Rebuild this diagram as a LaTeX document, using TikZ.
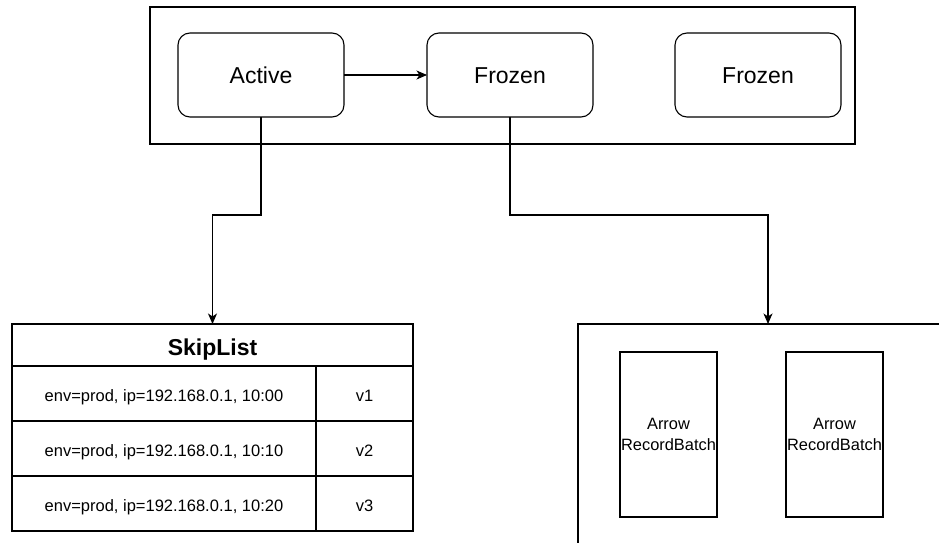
\documentclass[tikz,border=0pt]{standalone}
\usepackage{fontspec}
\setmainfont{Liberation Sans}
\usetikzlibrary{arrows.meta}
\begin{document}
\begin{tikzpicture}[x=1pt,y=-1pt,
  line width=1.1pt,
  every node/.style={inner sep=0pt, outer sep=0pt},
  container/.style={draw, rectangle},
  stagebox/.style={draw, rectangle, rounded corners=12pt, minimum width=166pt, minimum height=84pt, text height=16.6pt, text depth=0pt, font=\fontsize{23}{27}\selectfont},
  cellbox/.style={draw, rectangle, minimum height=55pt, text height=16.4pt, text depth=0pt, font=\fontsize{16.5}{20}\selectfont},
  batchbox/.style={draw, rectangle, minimum width=97pt, minimum height=165pt, align=center, font=\fontsize{16.4}{20.5}\selectfont},
  conn/.style={-{Stealth[length=10.5pt,width=9pt,inset=3pt]}}
]
\useasboundingbox (0,0) rectangle (939,543);
\clip (0,0) rectangle (939,543);
\fill[white] (0,0) rectangle (939,543);

% top container
\node[container, minimum width=705pt, minimum height=137pt] (outer) at (502.5,75.5) {};
\node[stagebox] (active) at (261,75) {Active};
\node[stagebox] (frozenA) at (510,75) {Frozen};
\node[stagebox] (frozenB) at (758,75) {Frozen};

% skiplist table
\node[draw, rectangle, minimum width=401pt, minimum height=42pt, text height=20pt, text depth=0pt, font=\fontsize{23}{27}\selectfont\bfseries] (skip) at (212.5,345) {SkipList};
\node[cellbox, minimum width=304pt] (k1) at (164,393.5) {env=prod, ip=192.168.0.1, 10:00};
\node[cellbox, minimum width=97pt] (v1) at (364.5,393.5) {v1};
\node[cellbox, minimum width=304pt] (k2) at (164,448.5) {env=prod, ip=192.168.0.1, 10:10};
\node[cellbox, minimum width=97pt] (v2) at (364.5,448.5) {v2};
\node[cellbox, minimum width=304pt] (k3) at (164,503.5) {env=prod, ip=192.168.0.1, 10:20};
\node[cellbox, minimum width=97pt] (v3) at (364.5,503.5) {v3};

% record batch container (partly outside the picture)
\node[container, minimum width=380pt, minimum height=236pt] (rbox) at (768,442) {};
\node[batchbox] (rb1) at (668.5,434.5) {Arrow\\RecordBatch};
\node[batchbox] (rb2) at (834.5,434.5) {Arrow\\RecordBatch};

% connectors
\draw[conn] (active.east) -- (frozenA.west);
\draw[conn] (active.south) -- (active.south |- 0,215) -| (skip.north);
\draw[conn] (frozenA.south) -- (frozenA.south |- 0,215) -| (rbox.north);
\end{tikzpicture}
\end{document}
